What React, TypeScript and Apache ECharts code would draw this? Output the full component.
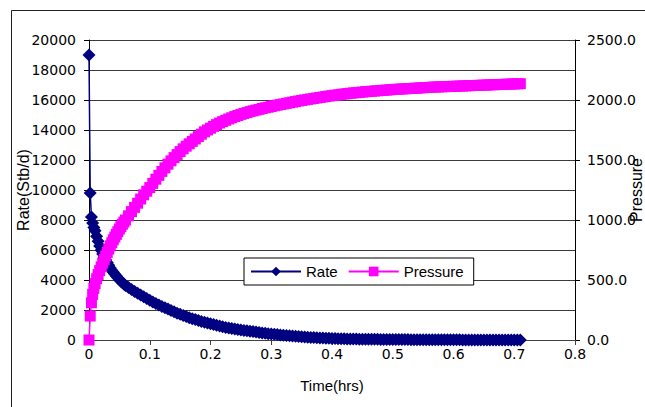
import React, { useEffect, useRef } from "react";
import * as echarts from "echarts";

const timeHrs = [
  0, 0.002, 0.004, 0.006, 0.008,
  0.01, 0.0125, 0.015, 0.0175, 0.02, 0.0225, 0.025, 0.0275, 0.03, 0.0325,
  0.035, 0.0375, 0.04, 0.0425, 0.045, 0.0475, 0.05, 0.0525, 0.055, 0.0575,
  0.06, 0.065, 0.07, 0.075, 0.08, 0.085, 0.09, 0.095, 0.1, 0.105,
  0.11, 0.115, 0.12, 0.125, 0.13, 0.135, 0.14, 0.145, 0.15, 0.155,
  0.16, 0.165, 0.17, 0.175, 0.18, 0.185, 0.19, 0.195, 0.2, 0.205,
  0.21, 0.215, 0.22, 0.225, 0.23, 0.235, 0.24, 0.245, 0.25, 0.255,
  0.26, 0.265, 0.27, 0.275, 0.28, 0.285, 0.29, 0.295, 0.3, 0.305,
  0.31, 0.315, 0.32, 0.325, 0.33, 0.335, 0.34, 0.345, 0.35, 0.355,
  0.36, 0.365, 0.37, 0.375, 0.38, 0.385, 0.39, 0.395, 0.4, 0.405,
  0.41, 0.415, 0.42, 0.425, 0.43, 0.435, 0.44, 0.445, 0.45, 0.455,
  0.46, 0.465, 0.47, 0.475, 0.48, 0.485, 0.49, 0.495, 0.5, 0.505,
  0.51, 0.515, 0.52, 0.525, 0.53, 0.535, 0.54, 0.545, 0.55, 0.555,
  0.56, 0.565, 0.57, 0.575, 0.58, 0.585, 0.59, 0.595, 0.6, 0.605,
  0.61, 0.615, 0.62, 0.625, 0.63, 0.635, 0.64, 0.645, 0.65, 0.655,
  0.66, 0.665, 0.67, 0.675, 0.68, 0.685, 0.69, 0.695, 0.7, 0.705,
  0.71,
];

const rateStbd = [
  19000, 9800, 8200, 7800, 7500,
  7280, 6920, 6580, 6270, 5980, 5740, 5520, 5340, 5170, 4980,
  4800, 4650, 4510, 4380, 4260, 4140, 4030, 3920, 3820, 3730,
  3640, 3500, 3370, 3240, 3120, 3000, 2880, 2760, 2650, 2540,
  2440, 2340, 2240, 2150, 2060, 1970, 1880, 1790, 1710, 1640,
  1560, 1490, 1420, 1360, 1300, 1240, 1190, 1130, 1080, 1030,
  980, 930, 880, 840, 800, 760, 730, 700, 670, 640,
  610, 590, 560, 530, 500, 470, 445, 420, 400, 380,
  360, 340, 320, 300, 280, 260, 245, 230, 215, 200,
  185, 170, 160, 150, 140, 130, 120, 110, 100, 95,
  90, 85, 80, 75, 70, 65, 60, 58, 55, 52,
  50, 48, 45, 43, 40, 38, 36, 34, 32, 30,
  29, 28, 27, 26, 25, 24, 23, 22, 21, 20,
  18, 17, 16, 15, 14, 13, 12, 11, 10, 9,
  9, 8, 8, 7, 7, 6, 6, 5, 5, 5,
  4, 4, 4, 3, 3, 3, 3, 2, 2, 2,
  2,
];

const pressurePsi = [
  0, 200, 310, 380, 430,
  470, 510, 545, 578, 610, 640, 670, 700, 730, 758,
  785, 810, 835, 858, 880, 903, 925, 945, 965, 983,
  1000, 1035, 1070, 1105, 1140, 1175, 1210, 1240, 1270, 1305,
  1340, 1372, 1405, 1435, 1465, 1493, 1520, 1545, 1570, 1593,
  1615, 1635, 1655, 1675, 1695, 1715, 1735, 1750, 1765, 1780,
  1795, 1808, 1820, 1831, 1842, 1852, 1862, 1871, 1880, 1888,
  1895, 1903, 1910, 1916, 1922, 1929, 1935, 1940, 1946, 1952,
  1957, 1962, 1967, 1972, 1977, 1982, 1987, 1992, 1996, 2001,
  2005, 2009, 2013, 2017, 2021, 2025, 2029, 2033, 2036, 2040,
  2043, 2047, 2050, 2053, 2056, 2059, 2061, 2064, 2066, 2069,
  2071, 2073, 2075, 2077, 2079, 2081, 2083, 2085, 2087, 2089,
  2090, 2092, 2093, 2095, 2096, 2098, 2099, 2101, 2102, 2104,
  2105, 2107, 2108, 2109, 2110, 2111, 2112, 2113, 2114, 2115,
  2116, 2117, 2118, 2119, 2120, 2121, 2122, 2123, 2124, 2125,
  2126, 2127, 2128, 2129, 2130, 2131, 2132, 2133, 2134, 2135,
  2136,
];

const seriesNames = ["Rate", "Pressure"];
const xTitle = "Time(hrs)";
const leftTitle = "Rate(Stb/d)";
const rightTitle = "Pressure";

const TICK_FONT = "DejaVu Sans";
const TEXT_FONT = "Liberation Sans";

export default function App() {
  const ref = useRef<HTMLDivElement>(null);
  useEffect(() => {
    if (!ref.current) return;
    const chart = echarts.init(ref.current, null, { renderer: "svg" });
    const rateData = timeHrs.map((t, i) => [t, rateStbd[i]]);
    const presData = timeHrs.map((t, i) => [t, pressurePsi[i]]);
    chart.setOption({
      animation: false,
      backgroundColor: "#ffffff",
      graphic: [
        {
          type: "rect",
          z: -10,
          shape: { x: 11.5, y: 10.5, width: 800, height: 600 },
          style: { fill: "none", stroke: "#222", lineWidth: 1 },
          silent: true,
        },
      ],
      grid: {
        left: 89,
        right: 70,
        top: 40,
        bottom: 67,
        containLabel: false,
        outerBoundsMode: "none",
      },
      legend: {
        left: 244,
        top: 258,
        orient: "horizontal",
        backgroundColor: "#fff",
        borderColor: "#000",
        borderWidth: 1,
        borderRadius: 0,
        padding: [6, 10, 6, 6],
        itemWidth: 50,
        itemHeight: 12,
        itemGap: 10,
        z: 10,
        textStyle: { fontFamily: TEXT_FONT, fontSize: 15, color: "#000" },
        data: seriesNames,
      },
      xAxis: {
        type: "value",
        min: 0,
        max: 0.8,
        interval: 0.1,
        name: xTitle,
        nameLocation: "middle",
        nameGap: 38,
        nameMoveOverlap: false,
        nameTextStyle: { fontFamily: TEXT_FONT, fontSize: 15, color: "#000" },
        axisLine: { show: true, onZero: false, lineStyle: { color: "#404040", width: 1 } },
        axisTick: { show: true, inside: false, length: 5, lineStyle: { color: "#404040" } },
        axisLabel: {
          fontFamily: TICK_FONT,
          fontSize: 14,
          color: "#000",
          margin: 7,
          formatter: (v: number) => (v === 0 ? "0" : v.toFixed(1)),
        },
        splitLine: { show: false },
      },
      yAxis: [
        {
          type: "value",
          position: "left",
          min: 0,
          max: 20000,
          interval: 2000,
          name: leftTitle,
          nameLocation: "middle",
          nameRotate: 90,
          nameGap: 58,
          nameMoveOverlap: false,
          nameTextStyle: { fontFamily: TEXT_FONT, fontSize: 16, color: "#000" },
          axisLine: { show: true, lineStyle: { color: "#000", width: 1 } },
          axisTick: { show: true, inside: false, length: 5, lineStyle: { color: "#000" } },
          axisLabel: {
            fontFamily: TICK_FONT,
            fontSize: 14,
            color: "#000",
            margin: 13,
            formatter: (v: number) => String(v),
          },
          splitLine: { show: true, lineStyle: { color: "#3a3a3a", width: 1 } },
        },
        {
          type: "value",
          position: "right",
          min: 0,
          max: 2500,
          interval: 500,
          name: rightTitle,
          nameLocation: "middle",
          nameRotate: 90,
          nameGap: 51,
          nameMoveOverlap: false,
          nameTextStyle: {
            fontFamily: TEXT_FONT,
            fontSize: 16,
            color: "#000",
            backgroundColor: "#fff",
            padding: [2, 6, 0, 6],
          },
          axisLine: { show: true, lineStyle: { color: "#000", width: 1 } },
          axisTick: { show: true, inside: false, length: 5, lineStyle: { color: "#000" } },
          axisLabel: {
            fontFamily: TICK_FONT,
            fontSize: 14,
            color: "#000",
            margin: 12,
            formatter: (v: number) => v.toFixed(1),
          },
          splitLine: { show: false },
        },
      ],
      series: [
        {
          name: seriesNames[0],
          type: "line",
          yAxisIndex: 0,
          data: rateData,
          symbol: "diamond",
          symbolSize: 13,
          showAllSymbol: true,
          clip: false,
          itemStyle: { color: "#000080" },
          lineStyle: { color: "#000080", width: 1.5 },
          z: 3,
        },
        {
          name: seriesNames[1],
          type: "line",
          yAxisIndex: 1,
          data: presData,
          symbol: "rect",
          symbolSize: 11,
          showAllSymbol: true,
          clip: false,
          itemStyle: { color: "#ff00ff" },
          lineStyle: { color: "#ff00ff", width: 1.5 },
          z: 4,
        },
      ],
    });
    return () => chart.dispose();
  }, []);
  return (
    <div
      ref={ref}
      style={{ position: "fixed", left: 0, top: 0, width: 645, height: 407, background: "#fff" }}
    />
  );
}
